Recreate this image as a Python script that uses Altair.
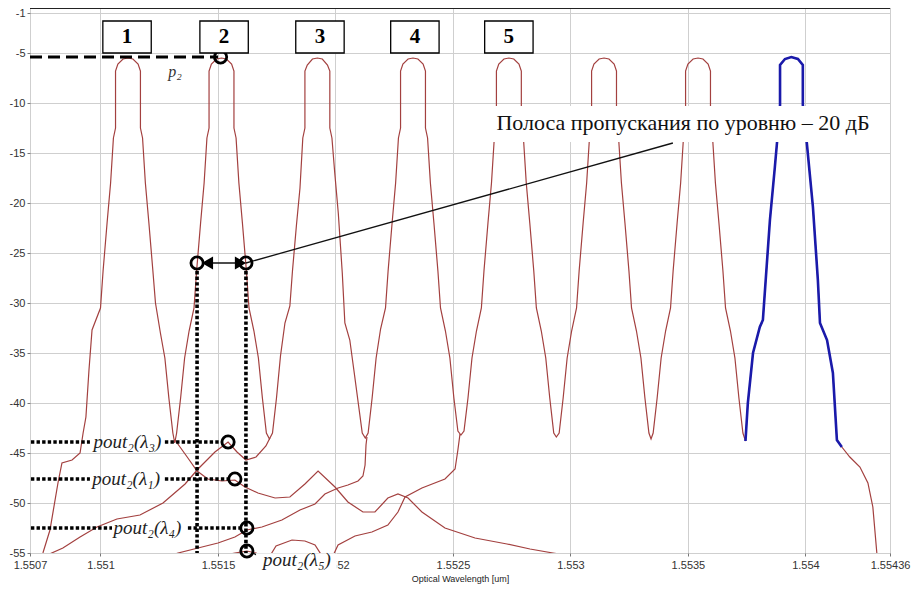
import altair as alt
import pandas as pd

RED = "#a3403f"
BLUE = "#1a1aaa"

x_ticks = [1.5507, 1.551, 1.5515, 1.552, 1.5525, 1.553, 1.5535, 1.554, 1.55436]
y_ticks = [-1, -5, -10, -15, -20, -25, -30, -35, -40, -45, -50, -55]

# ---- main measured trace, channel by channel (um, dB) ----
ch1_wl = [1.550755, 1.550785, 1.550819, 1.550836, 1.550879, 1.550913, 1.550926, 1.550938, 1.550951, 1.550964,
          1.551000, 1.551011, 1.551028, 1.551043, 1.551055, 1.551064, 1.551064, 1.551074, 1.551096, 1.551117,
          1.551138, 1.551160, 1.551170, 1.551170, 1.551179, 1.551191, 1.551206, 1.551223, 1.551234, 1.551255,
          1.551274, 1.551291, 1.551308, 1.551316]
ch1_db = [-55.0, -52.7, -48.0, -46.0, -45.7, -45.0, -43.0, -41.4, -36.7, -32.7,
          -30.5, -26.8, -22.0, -18.0, -13.5, -12.5, -6.8, -6.1, -5.6, -5.5,
          -5.6, -6.1, -6.8, -12.5, -13.5, -18.0, -22.0, -26.8, -30.0, -33.0,
          -35.5, -39.5, -43.0, -44.0]
ch2_wl = [1.551324, 1.551341, 1.551358, 1.551377, 1.551398, 1.551409, 1.551426, 1.551441, 1.551453, 1.551462,
          1.551462, 1.551472, 1.551494, 1.551515, 1.551536, 1.551558, 1.551568, 1.551568, 1.551577, 1.551589,
          1.551604, 1.551621, 1.551632, 1.551653, 1.551672, 1.551689, 1.551706, 1.551719]
ch2_db = [-43.0, -39.5, -35.5, -32.8, -30.5, -26.8, -22.0, -18.0, -13.5, -12.5,
          -6.8, -6.1, -5.6, -5.5, -5.6, -6.1, -6.8, -12.5, -13.5, -18.0,
          -22.0, -26.8, -30.5, -32.8, -35.5, -39.5, -43.0, -43.6]
ch3_wl = [1.551732, 1.551749, 1.551766, 1.551785, 1.551806, 1.551817, 1.551834, 1.551849, 1.551861, 1.551870,
          1.551870, 1.551880, 1.551902, 1.551923, 1.551944, 1.551966, 1.551976, 1.551976, 1.551985, 1.551997,
          1.552012, 1.552029, 1.552040, 1.552061, 1.552080, 1.552097, 1.552114, 1.552127]
ch3_db = [-43.0, -39.5, -35.3, -32.0, -30.3, -26.8, -22.2, -18.5, -13.5, -12.5,
          -6.8, -6.2, -5.6, -5.5, -5.6, -6.2, -6.8, -12.5, -13.5, -17.0,
          -21.0, -27.0, -32.0, -33.7, -37.0, -40.0, -43.0, -43.5]
ch4_wl = [1.552139, 1.552156, 1.552173, 1.552192, 1.552213, 1.552224, 1.552241, 1.552256, 1.552268, 1.552277,
          1.552277, 1.552287, 1.552309, 1.552330, 1.552351, 1.552373, 1.552383, 1.552383, 1.552392, 1.552404,
          1.552419, 1.552436, 1.552447, 1.552468, 1.552487, 1.552504, 1.552521, 1.552534]
ch4_db = [-43.0, -39.5, -35.5, -32.6, -30.5, -26.8, -22.0, -18.0, -13.5, -12.5,
          -6.8, -6.1, -5.6, -5.5, -5.6, -6.1, -6.8, -12.5, -13.5, -18.0,
          -22.0, -26.8, -30.5, -32.8, -35.5, -39.5, -42.8, -43.2]
ch5_wl = [1.552547, 1.552564, 1.552581, 1.552600, 1.552621, 1.552632, 1.552649, 1.552664, 1.552676, 1.552685,
          1.552685, 1.552695, 1.552717, 1.552738, 1.552759, 1.552781, 1.552791, 1.552791, 1.552800, 1.552812,
          1.552827, 1.552844, 1.552855, 1.552876, 1.552895, 1.552912, 1.552929, 1.552940]
ch5_db = [-42.8, -39.5, -35.5, -32.8, -30.5, -26.8, -22.0, -18.0, -13.5, -12.5,
          -6.8, -6.1, -5.6, -5.5, -5.6, -6.1, -6.8, -12.5, -13.5, -18.0,
          -22.0, -26.8, -30.5, -32.8, -35.5, -39.5, -43.0, -43.4]
ch6_wl = [1.552952, 1.552969, 1.552986, 1.553005, 1.553026, 1.553037, 1.553054, 1.553069, 1.553081, 1.553090,
          1.553090, 1.553100, 1.553122, 1.553143, 1.553164, 1.553186, 1.553196, 1.553196, 1.553205, 1.553217,
          1.553232, 1.553249, 1.553260, 1.553281, 1.553300, 1.553317, 1.553334, 1.553343]
ch6_db = [-43.0, -39.5, -35.5, -32.8, -30.5, -26.8, -22.0, -18.0, -13.5, -12.5,
          -6.8, -6.1, -5.6, -5.5, -5.6, -6.1, -6.8, -12.5, -13.5, -18.0,
          -22.0, -26.8, -30.5, -32.8, -35.5, -39.5, -43.0, -43.6]
ch7_wl = [1.553352, 1.553369, 1.553386, 1.553405, 1.553426, 1.553437, 1.553454, 1.553469, 1.553481, 1.553490,
          1.553490, 1.553500, 1.553522, 1.553543, 1.553564, 1.553586, 1.553596, 1.553596, 1.553605, 1.553617,
          1.553632, 1.553649, 1.553660, 1.553681, 1.553700, 1.553717, 1.553734, 1.553745]
ch7_db = [-43.0, -39.5, -35.5, -32.8, -30.5, -26.8, -22.0, -18.0, -13.5, -12.5,
          -6.8, -6.1, -5.6, -5.5, -5.6, -6.1, -6.8, -12.5, -13.5, -18.0,
          -22.0, -26.8, -30.5, -32.8, -35.5, -39.5, -43.0, -43.8]
# channel 8 (highlighted in blue)
ch8_wl = [1.553745, 1.553755, 1.553777, 1.553806, 1.553819, 1.553849, 1.553870, 1.553879, 1.553892, 1.553892,
          1.553913, 1.553940, 1.553968, 1.553989, 1.553989, 1.554006, 1.554032, 1.554053, 1.554062, 1.554092,
          1.554117, 1.554134, 1.554155]
ch8_db = [-43.8, -40.0, -35.0, -32.4, -31.7, -21.7, -16.4, -14.0, -10.2, -6.2,
          -5.6, -5.4, -5.6, -6.2, -10.2, -14.0, -20.4, -27.7, -32.0, -33.7,
          -37.0, -43.7, -44.4]
ch8_tail_wl = [1.554189, 1.554232, 1.554266, 1.554287, 1.554304, 1.554310]
ch8_tail_db = [-45.4, -46.4, -48.0, -50.4, -55.0, -56.0]

# ---- crosstalk skirts ----
l3_wl = [1.550764, 1.550840, 1.550913, 1.550985, 1.551070, 1.551168, 1.551266, 1.551360, 1.551415, 1.551487,
         1.551543, 1.551581, 1.551619, 1.551662, 1.551704, 1.551721]
l3_db = [-55.3, -54.5, -53.4, -52.4, -51.6, -51.2, -50.0, -48.1, -46.6, -44.9,
         -43.9, -44.9, -45.7, -45.4, -44.3, -43.5]
l1_wl = [1.551317, 1.551372, 1.551411, 1.551457, 1.551517, 1.551572, 1.551615, 1.551670, 1.551743, 1.551806,
         1.551870, 1.551926, 1.551998, 1.552053, 1.552117, 1.552168, 1.552223, 1.552266, 1.552309, 1.552368,
         1.552466, 1.552594, 1.552730, 1.552828, 1.552926, 1.552998]
l1_db = [-43.7, -45.5, -46.8, -47.6, -47.8, -47.7, -48.4, -49.0, -49.5, -49.4,
         -48.1, -46.8, -48.4, -49.9, -50.9, -50.9, -49.5, -49.1, -49.5, -50.9,
         -52.5, -53.5, -54.1, -54.6, -55.0, -55.3]
l4_wl = [1.551296, 1.551330, 1.551415, 1.551500, 1.551572, 1.551623, 1.551687, 1.551772, 1.551849, 1.551913,
         1.551955, 1.552011, 1.552053, 1.552096, 1.552117, 1.552126, 1.552130, 1.552134]
l4_db = [-55.3, -55.0, -54.5, -54.0, -53.4, -52.7, -52.4, -51.7, -50.7, -50.1,
         -49.1, -48.5, -48.2, -47.8, -47.3, -46.2, -44.2, -43.4]
l5a_wl = [1.551517, 1.551572, 1.551623, 1.551662, 1.551687]
l5a_db = [-55.3, -55.0, -54.8, -55.0, -55.3]
l5b_wl = [1.551721, 1.551747, 1.551815, 1.551870, 1.551913, 1.551943]
l5b_db = [-55.3, -54.3, -53.7, -53.8, -54.2, -55.3]
l5c_wl = [1.551989, 1.552011, 1.552083, 1.552155, 1.552223, 1.552266, 1.552296, 1.552368, 1.552466, 1.552509,
          1.552521, 1.552530]
l5c_db = [-55.3, -54.2, -53.3, -52.9, -52.2, -50.9, -49.4, -48.5, -47.6, -46.6,
          -44.7, -43.1]

# ---- annotations ----
box_wl = [1.551113, 1.551526, 1.551934, 1.552338, 1.552738]
box_txt = ["1", "2", "3", "4", "5"]

dot_x1 = [1.550704, 1.551274, 1.550704, 1.551274, 1.550704, 1.551372, 1.551411, 1.551619]
dot_x2 = [1.550955, 1.551517, 1.550955, 1.551547, 1.551049, 1.551598, 1.551411, 1.551619]
dot_y1 = [-43.9, -43.9, -47.6, -47.6, -52.5, -52.5, -26.8, -26.8]
dot_y2 = [-43.9, -43.9, -47.6, -47.6, -52.5, -52.5, -55.0, -55.0]

circ_wl = [1.551511, 1.551411, 1.551619, 1.551543, 1.551572, 1.551623, 1.551623]
circ_db = [-5.4, -26.0, -26.0, -43.9, -47.6, -52.5, -54.8]

tri_wl = [1.551455, 1.551596]
tri_db = [-26.0, -26.0]
tri_dir = ["l", "r"]

thin_x1 = [1.551457, 1.551619, 1.551649]
thin_x2 = [1.551594, 1.553436, 1.551687]
thin_y1 = [-26.0, -26.0, -55.0]
thin_y2 = [-26.0, -14.0, -55.5]

lab_txt = ["pout\u2082(\u03bb\u2083)", "pout\u2082(\u03bb\u2081)", "pout\u2082(\u03bb\u2084)", "pout\u2082(\u03bb\u2085)"]
lab_wl = [1.551115, 1.551109, 1.551200, 1.551836]
lab_db = [-43.9, -47.6, -52.5, -55.7]

band_text = "Полоса пропускания по уровню – 20 дБ"


def curve(name, wl, db):
    return pd.DataFrame({"wl": wl, "db": db, "curve": name, "i": range(len(wl))})


main_wl = ch1_wl + ch2_wl + ch3_wl + ch4_wl + ch5_wl + ch6_wl + ch7_wl + ch8_wl + ch8_tail_wl
main_db = ch1_db + ch2_db + ch3_db + ch4_db + ch5_db + ch6_db + ch7_db + ch8_db + ch8_tail_db
red_df = pd.concat([
    curve("main", main_wl, main_db),
    curve("l3", l3_wl, l3_db),
    curve("l1", l1_wl, l1_db),
    curve("l4", l4_wl, l4_db),
    curve("l5a", l5a_wl, l5a_db),
    curve("l5b", l5b_wl, l5b_db),
    curve("l5c", l5c_wl, l5c_db),
])
blue_df = curve("ch8", ch8_wl, ch8_db)

xs = alt.Scale(domain=[1.5507, 1.55436], nice=False, zero=False)
ys = alt.Scale(domain=[-55, -0.5], nice=False, zero=False)
xaxis = alt.Axis(values=x_ticks, labelExpr="'' + datum.value", title="Optical Wavelength [um]",
                 grid=True, gridColor="#cfcfcf", domain=False, tickSize=3, tickColor="#777",
                 labelFont="Liberation Sans", labelFontSize=11, labelColor="#333", labelPadding=3,
                 labelFlush=False, labelOverlap=False, labelBound=False,
                 titleFont="Liberation Sans", titleFontSize=9, titleFontWeight="normal",
                 titleColor="#222", titlePadding=4)
yaxis = alt.Axis(values=y_ticks, labelExpr="'' + datum.value", title=None,
                 grid=True, gridColor="#cfcfcf", domain=False, tickSize=3, tickColor="#777",
                 labelFont="Liberation Sans", labelFontSize=11, labelColor="#333", labelPadding=2,
                 labelFlush=False, labelOverlap=False, labelBound=False)
X = alt.X("wl:Q", scale=xs, axis=xaxis)
Y = alt.Y("db:Q", scale=ys, axis=yaxis)

red = alt.Chart(red_df).mark_line(color=RED, strokeWidth=1.2, clip=True).encode(
    x=X, y=Y, detail="curve:N", order="i:Q")
blue = alt.Chart(blue_df).mark_line(color=BLUE, strokeWidth=2.6, clip=True).encode(
    x=X, y=Y, order="i:Q")

top_df = pd.DataFrame({"wl": [1.5507], "wl2": [1.55436], "db": [-0.5]})
top = alt.Chart(top_df).mark_rule(color="#222", strokeWidth=2).encode(x=X, x2="wl2:Q", y=Y)

p2_df = pd.DataFrame({"wl": [1.5507], "wl2": [1.551500], "db": [-5.4]})
p2line = alt.Chart(p2_df).mark_rule(color="black", strokeWidth=3.2, strokeDash=[12, 6]).encode(
    x=X, x2="wl2:Q", y=Y)

dot_df = pd.DataFrame({"wl": dot_x1, "wl2": dot_x2, "db": dot_y1, "db2": dot_y2})
dots = alt.Chart(dot_df).mark_rule(color="black", strokeWidth=3.6, strokeDash=[3.4, 2.2]).encode(
    x=X, x2="wl2:Q", y=Y, y2="db2:Q")

thin_df = pd.DataFrame({"wl": thin_x1, "wl2": thin_x2, "db": thin_y1, "db2": thin_y2})
thin = alt.Chart(thin_df).mark_rule(color="#111", strokeWidth=1.3).encode(
    x=X, x2="wl2:Q", y=Y, y2="db2:Q")

band_bg_df = pd.DataFrame({"wl": [1.552640], "wl2": [1.554320], "db": [-10.3], "db2": [-13.9]})
band_bg = alt.Chart(band_bg_df).mark_rect(color="white").encode(x=X, x2="wl2:Q", y=Y, y2="db2:Q")

l5_bg_df = pd.DataFrame({"wl": [1.551662], "wl2": [1.552006], "db": [-55.05], "db2": [-56.6]})
l5_bg = alt.Chart(l5_bg_df).mark_rect(color="white").encode(x=X, x2="wl2:Q", y=Y, y2="db2:Q")

circ_df = pd.DataFrame({"wl": circ_wl, "db": circ_db})
circles = alt.Chart(circ_df).mark_point(shape="circle", filled=False, size=150, strokeWidth=2.8,
                                        color="black", opacity=1).encode(x=X, y=Y)

tri_df = pd.DataFrame({"wl": tri_wl, "db": tri_db, "dir": tri_dir})
tris = alt.Chart(tri_df).mark_point(filled=True, size=170, color="black", opacity=1).encode(
    x=X, y=Y,
    shape=alt.Shape("dir:N", scale=alt.Scale(domain=["l", "r"], range=["triangle-left", "triangle-right"]),
                    legend=None))

box_df = pd.DataFrame({"wl": box_wl, "txt": box_txt})
boxes = alt.Chart(box_df).transform_calculate(
    x1="datum.wl - 0.000103", x2="datum.wl + 0.000103", y1="-1.8", y2="-5.0"
).mark_rect(fill="white", stroke="black", strokeWidth=1.3).encode(
    x=alt.X("x1:Q", scale=xs, axis=xaxis), x2="x2:Q",
    y=alt.Y("y1:Q", scale=ys, axis=yaxis), y2="y2:Q")
box_txt_layer = alt.Chart(box_df).transform_calculate(db="-3.4").mark_text(
    font="Liberation Serif", fontSize=21, fontWeight="bold", color="black", baseline="middle"
).encode(x=X, y=Y, text="txt:N")

lab_df = pd.DataFrame({"wl": lab_wl, "db": lab_db, "txt": lab_txt})
labels = alt.Chart(lab_df).mark_text(font="Liberation Serif", fontSize=19, fontStyle="italic",
                                     color="#222", baseline="middle").encode(x=X, y=Y, text="txt:N")

p2_lab_df = pd.DataFrame({"wl": [1.551317], "db": [-6.9], "txt": ["p\u2082"]})
p2_lab = alt.Chart(p2_lab_df).mark_text(font="Liberation Serif", fontSize=16, fontStyle="italic",
                                        color="#333", baseline="middle").encode(x=X, y=Y, text="txt:N")

band_df = pd.DataFrame({"wl": [1.553479], "db": [-12.0], "txt": [band_text]})
band = alt.Chart(band_df).mark_text(font="Liberation Serif", fontSize=22, color="#111",
                                    baseline="middle").encode(x=X, y=Y, text="txt:N")

chart = alt.layer(
    red, blue, top, p2line, dots, thin, band_bg, l5_bg, circles, tris, boxes, box_txt_layer,
    labels, p2_lab, band
).properties(
    width=860, height=545,
    autosize=alt.AutoSizeParams(type="none"),
    padding={"left": 22, "top": 0, "right": 21, "bottom": 31},
).configure_view(stroke="#8c8c8c", strokeWidth=1)

chart.save("out.html", embed_options={"renderer": "svg", "actions": False})
